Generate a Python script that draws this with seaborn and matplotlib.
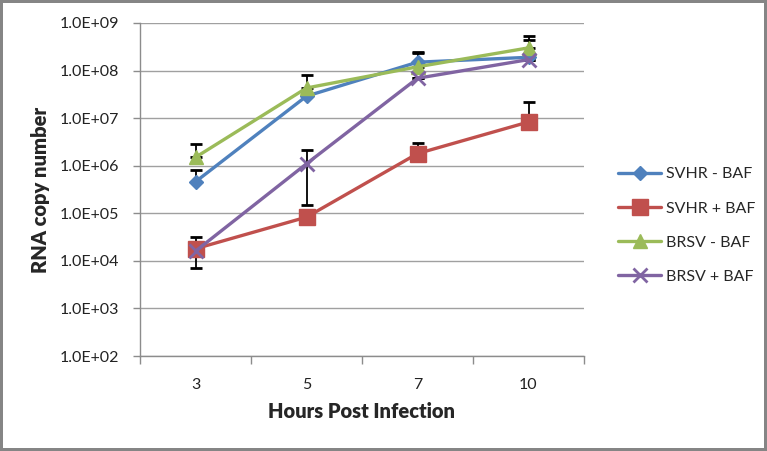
import numpy as np
import pandas as pd
import matplotlib
matplotlib.use("Agg")
import matplotlib.pyplot as plt
import seaborn as sns
from matplotlib.ticker import FixedLocator, FuncFormatter, NullFormatter

# values
hours = ["3", "5", "7", "10"]
series_names = ["SVHR - BAF", "SVHR + BAF", "BRSV - BAF", "BRSV + BAF"]

svhr_minus = [4.6e5, 2.9e7, 1.5e8, 1.9e8]
svhr_plus = [1.8e4, 8.3e4, 1.8e6, 8.3e6]
brsv_minus = [1.5e6, 4.3e7, 1.2e8, 3.0e8]
brsv_plus = [1.6e4, 1.1e6, 6.9e7, 1.7e8]

# error bars (upper / lower)
svhr_minus_hi = [3.5e5, 0, 9.0e7, 2.5e8]
svhr_minus_lo = [0, 0, 0, 0]
svhr_plus_hi = [1.4e4, 0, 1.2e6, 1.35e7]
svhr_plus_lo = [0, 0, 0, 0]
brsv_minus_hi = [1.4e6, 3.8e7, 1.1e8, 2.3e8]
brsv_minus_lo = [0, 0, 0, 0]
brsv_plus_hi = [0, 1.0e6, 0, 0]
brsv_plus_lo = [8.8e3, 9.5e5, 0, 0]

values = [svhr_minus, svhr_plus, brsv_minus, brsv_plus]
err_hi = [svhr_minus_hi, svhr_plus_hi, brsv_minus_hi, brsv_plus_hi]
err_lo = [svhr_minus_lo, svhr_plus_lo, brsv_minus_lo, brsv_plus_lo]

colors = ["#4F81BD", "#C0504D", "#9BBB59", "#8064A2"]
markers = ["D", "s", "^", "x"]
msizes = [7, 11, 10, 10]

sns.set_style("white")
plt.rcParams["font.family"] = ["Lato", "DejaVu Sans"]

fig = plt.figure(figsize=(7.67, 4.51), dpi=100)
ax = fig.add_axes([140 / 767, 1 - 356 / 451, 444 / 767, 333 / 451])

for name, vals, hi, lo, c, m, ms in zip(series_names, values, err_hi, err_lo,
                                        colors, markers, msizes):
    df = pd.DataFrame({"hours": hours, "copies": vals})
    ax.errorbar(df["hours"], df["copies"], yerr=[lo, hi], fmt="none",
                ecolor="black", elinewidth=1.3, capsize=4, capthick=2, zorder=3)
    sns.lineplot(data=df, x="hours", y="copies", ax=ax, color=c, linewidth=2.4,
                 marker=m, markersize=ms, markeredgecolor=c,
                 markeredgewidth=2 if m == "x" else 1, sort=False,
                 label=name, zorder=4)

ax.set_yscale("log")
ax.set_ylim(1e2, 1e9)
ax.set_xlim(-0.5, 3.5)
ax.yaxis.set_major_locator(FixedLocator([10.0 ** k for k in range(2, 10)]))
ax.yaxis.set_minor_formatter(NullFormatter())
ax.yaxis.set_minor_locator(FixedLocator([]))
ax.yaxis.set_major_formatter(FuncFormatter(lambda v, p: f"{v:.1E}"))
ax.grid(axis="y", color="#A0A0A0", linewidth=1)
ax.set_axisbelow(True)

for s in ["top", "right"]:
    ax.spines[s].set_visible(False)
for s in ["left", "bottom"]:
    ax.spines[s].set_color("#8C8C8C")
    ax.spines[s].set_linewidth(1)

ax.xaxis.set_minor_locator(FixedLocator([-0.5, 0.5, 1.5, 2.5, 3.5]))
ax.tick_params(axis="x", which="major", length=0, pad=16, labelsize=11.5,
               colors="#222222")
ax.tick_params(axis="x", which="minor", length=6, width=1, color="#8C8C8C",
               direction="out", bottom=True)
ax.tick_params(axis="y", which="major", length=5, width=1, color="#8C8C8C",
               direction="out", left=True, pad=10, labelsize=11.5,
               labelcolor="#222222")

ax.set_xlabel("Hours Post Infection", fontsize=14.5, fontweight="heavy", labelpad=7)
ax.set_ylabel("RNA copy number", fontsize=14.5, fontweight="heavy", labelpad=7)

ax.legend(loc="center left", bbox_to_anchor=(610 / 767, 0.5),
          bbox_transform=fig.transFigure, frameon=False, fontsize=11.5,
          labelspacing=1.25, handlelength=2.7, handletextpad=0.3, borderpad=0)

fig.patch.set_edgecolor("#858585")
fig.patch.set_linewidth(3)

fig.savefig("out.png", dpi=100, edgecolor=fig.get_edgecolor())
